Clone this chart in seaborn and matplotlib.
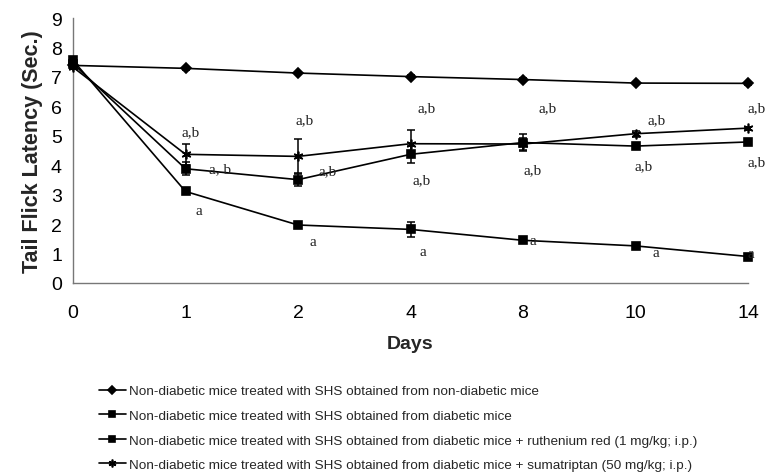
import numpy as np
import pandas as pd
import matplotlib
matplotlib.use("Agg")
import matplotlib.pyplot as plt
import seaborn as sns

# --- data ---
days = ["0", "1", "2", "4", "8", "10", "14"]

ctrl_mean = [7.39, 7.29, 7.13, 7.01, 6.91, 6.79, 6.78]
ctrl_err = [0.05, 0.05, 0.04, 0.04, 0.04, 0.04, 0.04]

diab_mean = [7.56, 3.11, 1.97, 1.82, 1.45, 1.26, 0.90]
diab_err = [0.06, 0.05, 0.05, 0.25, 0.05, 0.04, 0.05]

ruth_mean = [7.45, 3.88, 3.51, 4.37, 4.77, 4.65, 4.79]
ruth_err = [0.06, 0.22, 0.20, 0.28, 0.30, 0.05, 0.05]

suma_mean = [7.33, 4.37, 4.30, 4.73, 4.72, 5.07, 5.26]
suma_err = [0.05, 0.36, 0.58, 0.45, 0.20, 0.10, 0.05]

labels = [
    "Non-diabetic mice treated with SHS obtained from non-diabetic mice",
    "Non-diabetic mice treated with SHS obtained from diabetic mice",
    "Non-diabetic mice treated with SHS obtained from diabetic mice + ruthenium red (1 mg/kg; i.p.)",
    "Non-diabetic mice treated with SHS obtained from diabetic mice + sumatriptan (50 mg/kg; i.p.)",
]

# significance letters: (x position, y value, text)
sig_pos = [1.05, 1.31, 1.12, 2.06, 2.26, 2.13, 3.14, 3.10, 3.11,
           4.22, 4.09, 4.09, 5.19, 5.07, 5.18, 6.08, 6.08, 6.03]
sig_y = [5.14, 3.88, 2.46, 5.55, 3.81, 1.40, 5.95, 3.51, 1.06,
         5.95, 3.85, 1.45, 5.55, 3.99, 1.03, 5.95, 4.11, 1.00]
sig_txt = ["a,b", "a, b", "a", "a,b", "a,b", "a", "a,b", "a,b", "a",
           "a,b", "a,b", "a", "a,b", "a,b", "a", "a,b", "a,b", "a"]

# --- plot ---
sns.set_style("white")
plt.rcParams["font.family"] = ["Liberation Sans", "DejaVu Sans"]

pos = np.arange(len(days))
series = [
    (ctrl_mean, ctrl_err, "D", 5),
    (diab_mean, diab_err, "s", 6),
    (ruth_mean, ruth_err, "s", 6),
    (suma_mean, suma_err, (6, 2, 0), 7),
]

fig = plt.figure(figsize=(7.67, 4.77), dpi=100)
ax = fig.add_axes([73 / 767, 1 - 284 / 477, 675 / 767, 265 / 477])

for (mean, err, mk, ms), lab in zip(series, labels):
    df = pd.DataFrame({"pos": pos, "val": mean})
    sns.lineplot(data=df, x="pos", y="val", ax=ax, color="black", lw=1.2,
                 marker=mk, markersize=ms, markeredgecolor="black",
                 markeredgewidth=1.2, label=lab, clip_on=False, zorder=3)
    ax.errorbar(pos, mean, yerr=err, fmt="none", ecolor="black",
                elinewidth=1.1, capsize=3, capthick=1.1, clip_on=False, zorder=2)

for x, y, t in zip(sig_pos, sig_y, sig_txt):
    ax.text(x, y, t, ha="center", va="center", fontsize=11,
            family="Liberation Serif", color="#222222", clip_on=False)

ax.set_xlim(0, 6)
ax.set_ylim(0, 9)
ax.set_xticks(pos)
ax.set_xticklabels(days)
ax.set_yticks(range(10))
ax.tick_params(axis="both", labelsize=14, colors="#444444", labelcolor="black",
               direction="out", length=5, width=1)
ax.tick_params(axis="x", pad=10)
ax.tick_params(axis="y", pad=3)
ax.set_xlabel("Days", fontsize=14, fontweight="bold", labelpad=10)
ax.set_ylabel("Tail Flick Latency (Sec.)", fontsize=15.5, fontweight="bold", labelpad=6)
sns.despine(ax=ax)
for s in ["left", "bottom"]:
    ax.spines[s].set_color("#777777")
    ax.spines[s].set_linewidth(1)

handles, labs = ax.get_legend_handles_labels()
ax.get_legend().remove()
fig.legend(handles, labs, loc="upper left", bbox_to_anchor=(99 / 767, 1 - 386 / 477),
           frameon=False, fontsize=9.7, handlelength=2.0, handletextpad=0.2,
           labelspacing=0.9, markerscale=0.8, borderaxespad=0, borderpad=0)

fig.savefig("out.png", dpi=100)
